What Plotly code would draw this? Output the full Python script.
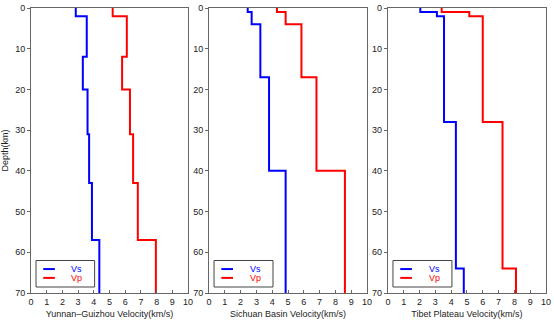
import plotly.graph_objects as go

# ---- data ----
regions = ["Yunnan–Guizhou", "Sichuan Basin", "Tibet Plateau"]

yg_tops = [0, 2, 12, 20, 31, 43, 57]
yg_vs = [2.85, 3.55, 3.3, 3.6, 3.7, 3.88, 4.35]
yg_vp = [5.2, 6.1, 5.8, 6.3, 6.5, 6.8, 7.95]

sb_tops = [0, 1, 4, 17, 40]
sb_vs = [2.45, 2.7, 3.25, 3.8, 4.85]
sb_vp = [4.3, 4.85, 5.85, 6.8, 8.6]

tp_tops = [0, 1, 2, 28, 64]
tp_vs = [2.05, 3.1, 3.55, 4.3, 4.8]
tp_vp = [3.4, 5.15, 6.0, 7.25, 8.1]

max_depth = 70
x_ticks = list(range(0, 11))
y_ticks = list(range(0, 71, 10))

panels = [(yg_tops, yg_vs, yg_vp), (sb_tops, sb_vs, sb_vp), (tp_tops, tp_vs, tp_vp)]

FONT = "Liberation Sans, Arial, sans-serif"
BLUE = "rgb(0,0,255)"
RED = "rgb(255,0,0)"
AX = "#666666"

domains = [(0.0, 0.305), (0.3456, 0.6525), (0.693, 1.0)]

fig = go.Figure()
shapes = []
annotations = []

for i, (tops, vs, vp) in enumerate(panels):
    xa = "x" if i == 0 else f"x{i+1}"
    ya = "y" if i == 0 else f"y{i+1}"
    ys = tops + [max_depth]
    for vals, col, nm in [(vs, BLUE, "Vs"), (vp, RED, "Vp")]:
        fig.add_trace(go.Scatter(
            x=vals + [vals[-1]], y=ys, mode="lines", line_shape="vh",
            line=dict(color=col, width=2), name=nm, showlegend=False,
            xaxis=xa, yaxis=ya, hoverinfo="skip"))
    sfx = "" if i == 0 else str(i + 1)
    fig.update_layout(**{
        f"xaxis{sfx}": dict(
            domain=list(domains[i]), range=[0, 10], tickvals=x_ticks,
            ticks="inside", ticklen=3, tickcolor=AX, showline=True,
            linecolor=AX, linewidth=1, mirror=True, showgrid=False,
            zeroline=False, anchor=ya, ticklabeloverflow="allow",
            tickfont=dict(size=9, color="#222", family=FONT),
            title=dict(text=f"{regions[i]} Velocity(km/s)", standoff=4,
                       font=dict(size=9, color="#222", family=FONT))),
        f"yaxis{sfx}": dict(
            domain=[0, 1], range=[max_depth, 0], tickvals=y_ticks,
            ticks="outside", ticklen=3, tickcolor=AX, showline=True,
            linecolor=AX, linewidth=1, mirror=True, showgrid=False,
            zeroline=False, anchor=xa, ticklabeloverflow="allow",
            tickfont=dict(size=9, color="#222", family=FONT),
            title=dict(text="Depth(km)" if i == 0 else "", standoff=6,
                       font=dict(size=9, color="#222", family=FONT))),
    })
    # custom legend box
    xr = f"{xa} domain"
    yr = f"{ya} domain"
    shapes.append(dict(type="rect", xref=xr, yref=yr, x0=0.032, x1=0.405,
                       y0=0.021, y1=0.114, line=dict(color="#444", width=1),
                       fillcolor="white", layer="above"))
    for yy, col, nm in [(0.084, BLUE, "Vs"), (0.053, RED, "Vp")]:
        shapes.append(dict(type="line", xref=xr, yref=yr, x0=0.078, x1=0.152,
                           y0=yy, y1=yy, line=dict(color=col, width=2),
                           layer="above"))
        annotations.append(dict(xref=xr, yref=yr, x=0.245, y=yy, text=nm,
                                showarrow=False, xanchor="left", yanchor="middle",
                                font=dict(size=9, color=col, family=FONT)))

fig.update_layout(
    width=554, height=323,
    margin=dict(l=31, r=5, t=3, b=30),
    paper_bgcolor="white", plot_bgcolor="white",
    shapes=shapes, annotations=annotations,
    font=dict(family=FONT, size=9, color="#222"),
)

fig.write_html("out.html")
